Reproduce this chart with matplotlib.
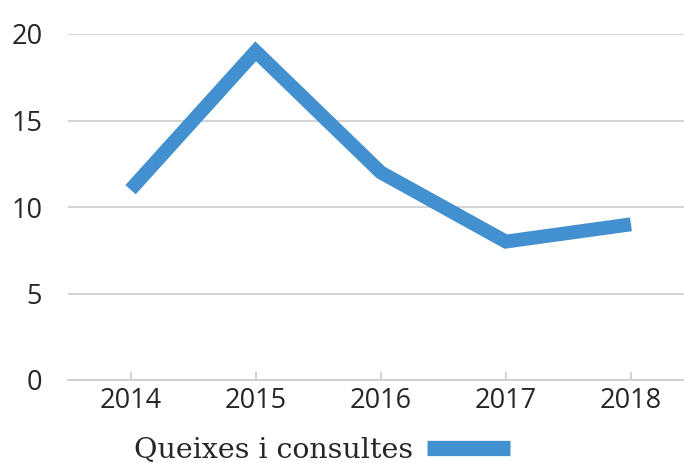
import matplotlib.pyplot as plt
from matplotlib.lines import Line2D

years = ['2014', '2015', '2016', '2017', '2018']
queixes = [11, 19, 12, 8, 9]
yticks = [0, 5, 10, 15, 20]

color = '#4390d0'

fig = plt.figure(figsize=(6.84, 4.63), dpi=100)
ax = fig.add_axes([68 / 684, 1 - 380 / 463, 616 / 684, 346 / 463])

x = list(range(len(years)))
ax.plot(x, queixes, color=color, lw=10, solid_joinstyle='miter', solid_capstyle='butt')

ax.set_xlim(-0.5, 4.5 - 9.5 / 125)
ax.set_ylim(0, 20)
ax.set_yticks(yticks)
ax.set_xticks(x)
ax.set_xticklabels(years)
ax.yaxis.grid(True, color='#cccccc', lw=1.2)
ax.set_axisbelow(True)
for s in ['top', 'right', 'left']:
    ax.spines[s].set_visible(False)
ax.spines['bottom'].set_color('#cccccc')
ax.spines['bottom'].set_linewidth(1.2)
ax.tick_params(axis='y', length=0, pad=18.5, labelsize=19.5, labelcolor='#262626')
ax.tick_params(axis='x', direction='in', length=6, color='#cccccc', width=1.2,
               pad=5, labelsize=19.5, labelcolor='#262626')
for lab in ax.get_xticklabels() + ax.get_yticklabels():
    lab.set_fontfamily('Open Sans')

handle = Line2D([], [], color=color, lw=11, solid_capstyle='butt')
leg = fig.legend([handle], ['Queixes i consultes'], loc='center',
                 bbox_to_anchor=(322 / 684, 1 - 450 / 463), frameon=False,
                 markerfirst=False, handlelength=2.9, handletextpad=0.5,
                 prop={'family': 'DejaVu Serif', 'size': 20.5})
for t in leg.get_texts():
    t.set_color('#262626')

fig.savefig('out.png', dpi=100)
